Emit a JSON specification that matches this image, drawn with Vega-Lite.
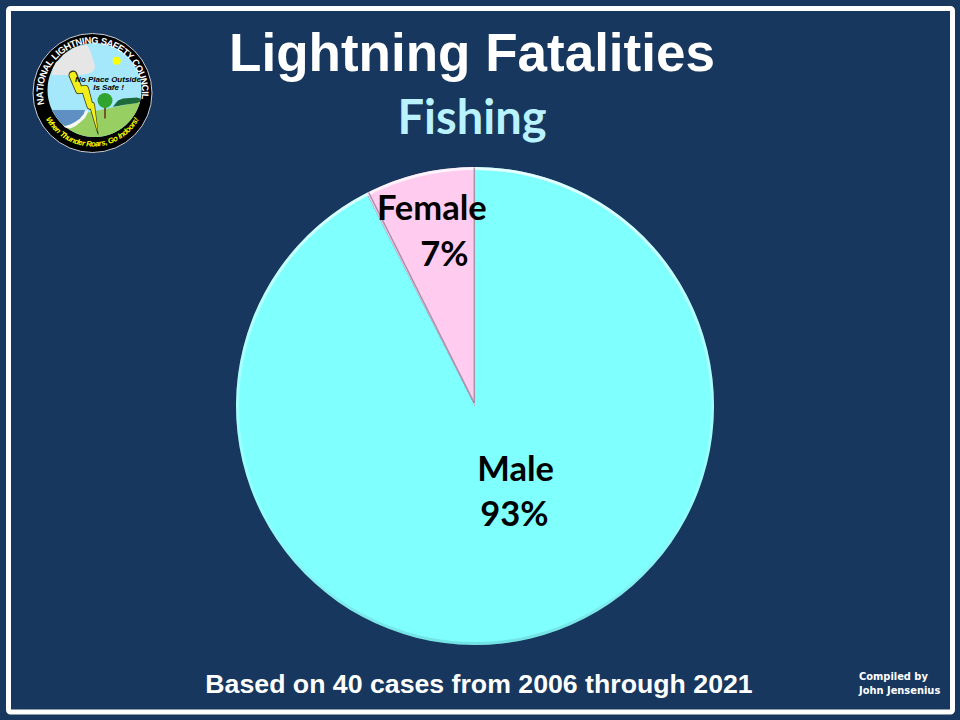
{"$schema":"https://vega.github.io/schema/vega-lite/v6.json","width":944,"height":703.5,"autosize":"none","padding":{"left":8.5,"top":8.5,"right":7.5,"bottom":8},"background":"#17375e","config":{"view":{"fill":"#17375e","stroke":"#ffffff","strokeWidth":5,"cornerRadius":2}},"title":{"text":"Lightning Fatalities","subtitle":"Fishing","anchor":"middle","frame":"group","orient":"top","baseline":"alphabetic","offset":-176.5,"dx":-8.5,"font":"Liberation Sans","fontSize":53,"fontWeight":"bold","color":"#ffffff","subtitleFont":"Lato","subtitleFontSize":47,"subtitleFontWeight":"bold","subtitleColor":"#b9f3ff","subtitlePadding":10},"resolve":{"scale":{"theta":"independent","radius":"independent"}},
"datasets":{"slices":[{"segment":"Male","cases":37,"ord":1,"line":"Male","share":"93%"},{"segment":"Female","cases":3,"ord":2,"line":"Female","share":"7%"}]},
"layer":[
{"data":{"name":"slices"},"mark":{"type":"arc","radius":239},"encoding":{"x":{"datum":475,"type":"quantitative","scale":{"domain":[8.5,952.5],"nice":false,"zero":false},"axis":null},"y":{"datum":406,"type":"quantitative","scale":{"domain":[8.5,712],"nice":false,"zero":false,"reverse":true},"axis":null},"theta":{"field":"cases","type":"quantitative","stack":true},"order":{"field":"ord"},"color":{"field":"segment","type":"nominal","legend":null,"scale":{"domain":["Male","Female"],"range":["#80ffff","#ffccf0"]}}}},
{"data":{"values":[{"whole":40}]},"mark":{"type":"arc","radius":239,"radius2":236,"fill":{"x1":0,"y1":0,"x2":0,"y2":1,"gradient":"linear","stops":[{"offset":0,"color":"rgba(255,255,255,0.8)"},{"offset":0.3,"color":"rgba(255,255,255,0.4)"},{"offset":0.7,"color":"rgba(255,255,255,0.15)"},{"offset":1,"color":"rgba(60,110,120,0.2)"}]}},"encoding":{"x":{"datum":475,"type":"quantitative","scale":{"domain":[8.5,952.5],"nice":false,"zero":false},"axis":null},"y":{"datum":406,"type":"quantitative","scale":{"domain":[8.5,712],"nice":false,"zero":false,"reverse":true},"axis":null},"theta":{"field":"whole","type":"quantitative","stack":true}}},
{"data":{"values":[{"edge":"a","px":474.3,"py":403},{"edge":"a","px":368.6,"py":192.5},{"edge":"b","px":474.3,"py":403},{"edge":"b","px":474.3,"py":167.5}]},"mark":{"type":"line","stroke":"#8e8698","strokeWidth":1.5,"opacity":0.8},"encoding":{"x":{"field":"px","type":"quantitative","scale":{"domain":[8.5,952.5],"nice":false,"zero":false},"axis":null},"y":{"field":"py","type":"quantitative","scale":{"domain":[8.5,712],"nice":false,"zero":false,"reverse":true},"axis":null},"detail":{"field":"edge"},"order":{"field":"py"}}},
{"data":{"name":"slices"},"mark":{"type":"text","font":"Lato","fontWeight":"bold","fontSize":34.5,"color":"#000000","baseline":"middle","radius":67,"dx":25},"encoding":{"x":{"datum":475,"type":"quantitative","scale":{"domain":[8.5,952.5],"nice":false,"zero":false},"axis":null},"y":{"datum":406,"type":"quantitative","scale":{"domain":[8.5,712],"nice":false,"zero":false,"reverse":true},"axis":null},"theta":{"field":"cases","type":"quantitative","stack":true},"order":{"field":"ord"},"detail":{"field":"segment"},"text":{"condition":{"test":"datum.segment==='Male'","field":"line"},"value":""}}},
{"data":{"name":"slices"},"mark":{"type":"text","font":"Lato","fontWeight":"bold","fontSize":34.5,"color":"#000000","baseline":"middle","radius":113,"dx":13},"encoding":{"x":{"datum":475,"type":"quantitative","scale":{"domain":[8.5,952.5],"nice":false,"zero":false},"axis":null},"y":{"datum":406,"type":"quantitative","scale":{"domain":[8.5,712],"nice":false,"zero":false,"reverse":true},"axis":null},"theta":{"field":"cases","type":"quantitative","stack":true},"order":{"field":"ord"},"detail":{"field":"segment"},"text":{"condition":{"test":"datum.segment==='Male'","field":"share"},"value":""}}},
{"data":{"name":"slices"},"mark":{"type":"text","font":"Lato","fontWeight":"bold","fontSize":34.5,"color":"#000000","baseline":"middle","radius":198,"dx":3,"dy":-3},"encoding":{"x":{"datum":475,"type":"quantitative","scale":{"domain":[8.5,952.5],"nice":false,"zero":false},"axis":null},"y":{"datum":406,"type":"quantitative","scale":{"domain":[8.5,712],"nice":false,"zero":false,"reverse":true},"axis":null},"theta":{"field":"cases","type":"quantitative","stack":true},"order":{"field":"ord"},"detail":{"field":"segment"},"text":{"condition":{"test":"datum.segment==='Female'","field":"line"},"value":""}}},
{"data":{"name":"slices"},"mark":{"type":"text","font":"Lato","fontWeight":"bold","fontSize":34.5,"color":"#000000","baseline":"middle","radius":153,"dx":5,"dy":-1},"encoding":{"x":{"datum":475,"type":"quantitative","scale":{"domain":[8.5,952.5],"nice":false,"zero":false},"axis":null},"y":{"datum":406,"type":"quantitative","scale":{"domain":[8.5,712],"nice":false,"zero":false,"reverse":true},"axis":null},"theta":{"field":"cases","type":"quantitative","stack":true},"order":{"field":"ord"},"detail":{"field":"segment"},"text":{"condition":{"test":"datum.segment==='Female'","field":"share"},"value":""}}},
{"data":{"values":[{"note":"Based on 40 cases from 2006 through 2021"}]},"mark":{"type":"text","font":"Liberation Sans","fontWeight":"bold","fontSize":26.7,"color":"#ffffff","baseline":"middle"},"encoding":{"x":{"datum":479,"type":"quantitative","scale":{"domain":[8.5,952.5],"nice":false,"zero":false},"axis":null},"y":{"datum":685,"type":"quantitative","scale":{"domain":[8.5,712],"nice":false,"zero":false,"reverse":true},"axis":null},"text":{"field":"note"}}},
{"data":{"values":[{"note":"Compiled by","row":677},{"note":"John Jensenius","row":691}]},"mark":{"type":"text","font":"DejaVu Sans","fontWeight":"bold","fontSize":9.9,"color":"#ffffff","align":"left","baseline":"middle"},"encoding":{"x":{"datum":859,"type":"quantitative","scale":{"domain":[8.5,952.5],"nice":false,"zero":false},"axis":null},"y":{"field":"row","type":"quantitative","scale":{"domain":[8.5,712],"nice":false,"zero":false,"reverse":true},"axis":null},"text":{"field":"note"}}},
{"data":{"values":[{"c":1}]},"mark":{"type":"point","filled":true,"size":14161,"color":"#000000","stroke":"#c8ced6","strokeWidth":1,"opacity":1},"encoding":{"x":{"datum":92.5,"type":"quantitative","scale":{"domain":[8.5,952.5],"nice":false,"zero":false},"axis":null},"y":{"datum":93,"type":"quantitative","scale":{"domain":[8.5,712],"nice":false,"zero":false,"reverse":true},"axis":null}}},
{"data":{"values":[{"c":1}]},"mark":{"type":"point","filled":true,"size":8836,"color":"#a6e8fb","opacity":1},"encoding":{"x":{"datum":94.5,"type":"quantitative","scale":{"domain":[8.5,952.5],"nice":false,"zero":false},"axis":null},"y":{"datum":90,"type":"quantitative","scale":{"domain":[8.5,712],"nice":false,"zero":false,"reverse":true},"axis":null}}},
{"data":{"values":[{"px":52,"t":110,"b":110},{"px":55,"t":112,"b":115.5},{"px":60,"t":118,"b":121.9},{"px":66,"t":126,"b":127.3},{"px":70,"t":125,"b":130.1},{"px":75,"t":122,"b":132.8},{"px":80,"t":118,"b":134.7},{"px":85,"t":113,"b":136},{"px":90,"t":112,"b":136.8},{"px":94.5,"t":111,"b":137},{"px":100,"t":110,"b":136.7},{"px":105,"t":109,"b":135.8},{"px":110,"t":108,"b":134.4},{"px":115,"t":107,"b":132.3},{"px":120,"t":106,"b":129.5},{"px":125,"t":105,"b":125.8},{"px":130,"t":104,"b":120.8},{"px":135,"t":103,"b":113.8},{"px":138,"t":102.5,"b":107.8},{"px":140,"t":101.8,"b":101.8}]},"mark":{"type":"area","color":"#97cf63","opacity":1},"encoding":{"x":{"field":"px","type":"quantitative","scale":{"domain":[8.5,952.5],"nice":false,"zero":false},"axis":null},"y":{"field":"t","type":"quantitative","scale":{"domain":[8.5,712],"nice":false,"zero":false,"reverse":true},"axis":null},"y2":{"field":"b"}}},
{"data":{"values":[{"px":62,"t":124,"b":124},{"px":65,"t":126,"b":127.5},{"px":70,"t":124,"b":128.5},{"px":75,"t":121,"b":126.5},{"px":80,"t":116,"b":122.5},{"px":85,"t":111,"b":118},{"px":88,"t":110,"b":112}]},"mark":{"type":"area","color":"#f4f8f0","opacity":1},"encoding":{"x":{"field":"px","type":"quantitative","scale":{"domain":[8.5,952.5],"nice":false,"zero":false},"axis":null},"y":{"field":"t","type":"quantitative","scale":{"domain":[8.5,712],"nice":false,"zero":false,"reverse":true},"axis":null},"y2":{"field":"b"}}},
{"data":{"values":[{"px":52,"t":110,"b":110},{"px":55,"t":110,"b":115.5},{"px":60,"t":110,"b":121.9},{"px":65,"t":110,"b":126},{"px":70,"t":110,"b":124.5},{"px":75,"t":110,"b":122},{"px":80,"t":110,"b":118.5},{"px":84,"t":110,"b":113.5},{"px":85,"t":110,"b":110}]},"mark":{"type":"area","color":"#5e90c4","opacity":1},"encoding":{"x":{"field":"px","type":"quantitative","scale":{"domain":[8.5,952.5],"nice":false,"zero":false},"axis":null},"y":{"field":"t","type":"quantitative","scale":{"domain":[8.5,712],"nice":false,"zero":false,"reverse":true},"axis":null},"y2":{"field":"b"}}},
{"data":{"values":[{"px":113,"t":106.5,"b":106.8},{"px":118,"t":100.5,"b":106},{"px":123,"t":98.5,"b":105},{"px":130,"t":98,"b":104},{"px":137,"t":97.5,"b":103},{"px":140,"t":98.5,"b":101.8}]},"mark":{"type":"area","color":"#1d6b3a","opacity":1},"encoding":{"x":{"field":"px","type":"quantitative","scale":{"domain":[8.5,952.5],"nice":false,"zero":false},"axis":null},"y":{"field":"t","type":"quantitative","scale":{"domain":[8.5,712],"nice":false,"zero":false,"reverse":true},"axis":null},"y2":{"field":"b"}}},
{"data":{"values":[{"px":52,"t":75,"b":75},{"px":53,"t":68,"b":75},{"px":56,"t":62,"b":75},{"px":60,"t":60,"b":75},{"px":63,"t":55,"b":75},{"px":68,"t":52,"b":75},{"px":73,"t":48,"b":75},{"px":80,"t":46,"b":75},{"px":87,"t":45,"b":74},{"px":90,"t":50,"b":73},{"px":92,"t":56,"b":72},{"px":94,"t":63,"b":70},{"px":95,"t":66,"b":67}]},"mark":{"type":"area","color":"#e6e6e6","opacity":1},"encoding":{"x":{"field":"px","type":"quantitative","scale":{"domain":[8.5,952.5],"nice":false,"zero":false},"axis":null},"y":{"field":"t","type":"quantitative","scale":{"domain":[8.5,712],"nice":false,"zero":false,"reverse":true},"axis":null},"y2":{"field":"b"}}},
{"data":{"values":[{"c":1}]},"mark":{"type":"point","filled":true,"size":64,"color":"#ffff00","opacity":1},"encoding":{"x":{"datum":116.7,"type":"quantitative","scale":{"domain":[8.5,952.5],"nice":false,"zero":false},"axis":null},"y":{"datum":60.7,"type":"quantitative","scale":{"domain":[8.5,712],"nice":false,"zero":false,"reverse":true},"axis":null}}},
{"data":{"values":[{"k":1,"px":73,"py":75,"w":9},{"k":2,"px":79,"py":90,"w":8},{"k":3,"px":85,"py":89,"w":8},{"k":4,"px":90,"py":106,"w":7},{"k":5,"px":92,"py":105,"w":6},{"k":6,"px":98,"py":134,"w":1}]},"mark":{"type":"trail","color":"#3a3a10","opacity":1},"encoding":{"x":{"field":"px","type":"quantitative","scale":{"domain":[8.5,952.5],"nice":false,"zero":false},"axis":null},"y":{"field":"py","type":"quantitative","scale":{"domain":[8.5,712],"nice":false,"zero":false,"reverse":true},"axis":null},"order":{"field":"k"},"size":{"field":"w","type":"quantitative","scale":null,"legend":null}}},
{"data":{"values":[{"k":1,"px":73,"py":75.5,"w":7},{"k":2,"px":79,"py":90,"w":6.5},{"k":3,"px":85,"py":89,"w":6.5},{"k":4,"px":90,"py":106,"w":5.5},{"k":5,"px":92,"py":105,"w":4.5},{"k":6,"px":97.5,"py":131,"w":0.3}]},"mark":{"type":"trail","color":"#f2ee1a","opacity":1},"encoding":{"x":{"field":"px","type":"quantitative","scale":{"domain":[8.5,952.5],"nice":false,"zero":false},"axis":null},"y":{"field":"py","type":"quantitative","scale":{"domain":[8.5,712],"nice":false,"zero":false,"reverse":true},"axis":null},"order":{"field":"k"},"size":{"field":"w","type":"quantitative","scale":null,"legend":null}}},
{"data":{"values":[{"px":105,"t":105,"b":118.5}]},"mark":{"type":"rule","color":"#6b4a22","strokeWidth":1.8},"encoding":{"x":{"field":"px","type":"quantitative","scale":{"domain":[8.5,952.5],"nice":false,"zero":false},"axis":null},"y":{"field":"t","type":"quantitative","scale":{"domain":[8.5,712],"nice":false,"zero":false,"reverse":true},"axis":null},"y2":{"field":"b"}}},
{"data":{"values":[{"c":1}]},"mark":{"type":"point","filled":true,"size":225,"color":"#2fa52f","opacity":1},"encoding":{"x":{"datum":105,"type":"quantitative","scale":{"domain":[8.5,952.5],"nice":false,"zero":false},"axis":null},"y":{"datum":100.5,"type":"quantitative","scale":{"domain":[8.5,712],"nice":false,"zero":false,"reverse":true},"axis":null}}},
{"data":{"values":[{"note":"No Place Outside","px":108,"py":79.5},{"note":"Is Safe !","px":108.5,"py":88}]},"mark":{"type":"text","font":"Liberation Sans","fontWeight":"bold","fontStyle":"italic","fontSize":8,"color":"#000000","baseline":"middle"},"encoding":{"x":{"field":"px","type":"quantitative","scale":{"domain":[8.5,952.5],"nice":false,"zero":false},"axis":null},"y":{"field":"py","type":"quantitative","scale":{"domain":[8.5,712],"nice":false,"zero":false,"reverse":true},"axis":null},"text":{"field":"note"}}},
{"data":{"values":[{"c":"N","deg":-99.4},{"c":"A","deg":-92.2},{"c":"T","deg":-85.55},{"c":"I","deg":-81.1},{"c":"O","deg":-75.8},{"c":"N","deg":-68.3},{"c":"A","deg":-61.1},{"c":"L","deg":-54.45},{"c":"L","deg":-45.55},{"c":"I","deg":-41.1},{"c":"G","deg":-35.8},{"c":"H","deg":-28.3},{"c":"T","deg":-21.65},{"c":"N","deg":-15},{"c":"I","deg":-10},{"c":"N","deg":-5},{"c":"G","deg":2.5},{"c":"S","deg":12.55},{"c":"A","deg":19.5},{"c":"F","deg":26.15},{"c":"E","deg":32.55},{"c":"T","deg":38.95},{"c":"Y","deg":45.35},{"c":"C","deg":55.1},{"c":"O","deg":62.6},{"c":"U","deg":70.1},{"c":"N","deg":77.3},{"c":"C","deg":84.5},{"c":"I","deg":89.5},{"c":"L","deg":93.95}]},"mark":{"type":"text","font":"Liberation Sans","fontWeight":"bold","fontSize":9.5,"color":"#ffffff","baseline":"middle","radius":52.5},"encoding":{"x":{"datum":92.5,"type":"quantitative","scale":{"domain":[8.5,952.5],"nice":false,"zero":false},"axis":null},"y":{"datum":93,"type":"quantitative","scale":{"domain":[8.5,712],"nice":false,"zero":false,"reverse":true},"axis":null},"theta":{"field":"deg","type":"quantitative","stack":null,"scale":{"domain":[0,360],"range":[0,6.28319],"zero":false,"nice":false}},"angle":{"field":"deg","type":"quantitative","scale":null},"text":{"field":"c"}}},
{"data":{"values":[{"c":"W","deg":237.0,"rot":57.0},{"c":"h","deg":231.3,"rot":51.3},{"c":"e","deg":227.0,"rot":47.0},{"c":"n","deg":222.6,"rot":42.6},{"c":"T","deg":216.0,"rot":36.0},{"c":"h","deg":211.5,"rot":31.5},{"c":"u","deg":207.0,"rot":27.0},{"c":"n","deg":202.5,"rot":22.5},{"c":"d","deg":198.0,"rot":18.0},{"c":"e","deg":193.7,"rot":13.7},{"c":"r","deg":190.1,"rot":10.1},{"c":"R","deg":184.0,"rot":4.0},{"c":"o","deg":179.1,"rot":-0.9},{"c":"a","deg":174.8,"rot":-5.2},{"c":"r","deg":171.3,"rot":-8.7},{"c":"s","deg":167.8,"rot":-12.2},{"c":",","deg":164.6,"rot":-15.4},{"c":"G","deg":158.7,"rot":-21.3},{"c":"o","deg":153.5,"rot":-26.5},{"c":"I","deg":148.1,"rot":-31.9},{"c":"n","deg":144.9,"rot":-35.1},{"c":"d","deg":140.3,"rot":-39.7},{"c":"o","deg":135.8,"rot":-44.2},{"c":"o","deg":131.3,"rot":-48.7},{"c":"r","deg":127.6,"rot":-52.4},{"c":"s","deg":124.1,"rot":-55.9},{"c":"!","deg":120.8,"rot":-59.2}]},"mark":{"type":"text","font":"Liberation Sans","fontWeight":"bold","fontStyle":"italic","fontSize":7.8,"color":"#ffff00","baseline":"middle","radius":51.5},"encoding":{"x":{"datum":92.5,"type":"quantitative","scale":{"domain":[8.5,952.5],"nice":false,"zero":false},"axis":null},"y":{"datum":93,"type":"quantitative","scale":{"domain":[8.5,712],"nice":false,"zero":false,"reverse":true},"axis":null},"theta":{"field":"deg","type":"quantitative","stack":null,"scale":{"domain":[0,360],"range":[0,6.28319],"zero":false,"nice":false}},"angle":{"field":"rot","type":"quantitative","scale":null},"text":{"field":"c"}}}
]}
